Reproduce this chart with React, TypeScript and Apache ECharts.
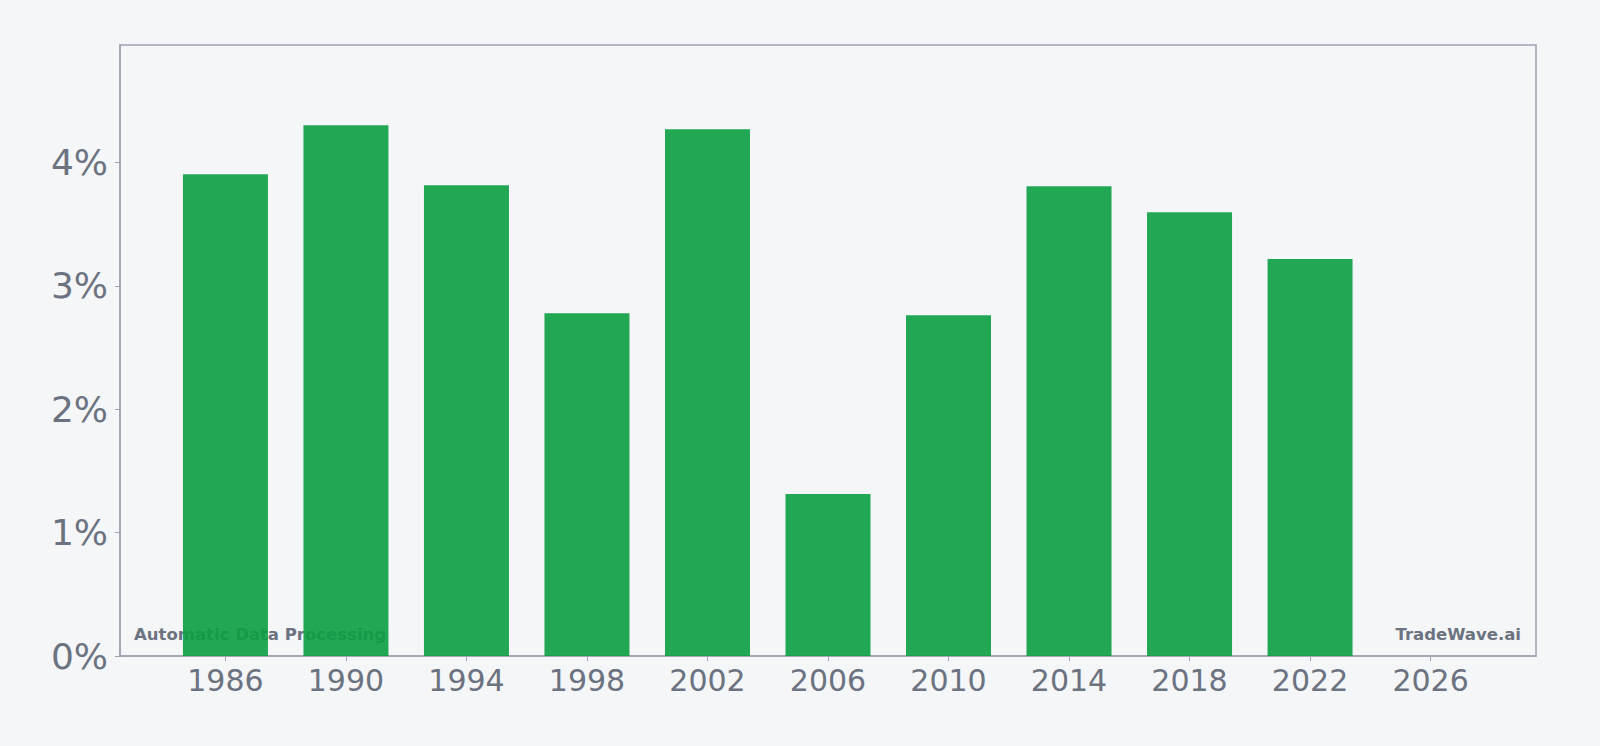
import {useEffect, useRef} from 'react';
import * as echarts from 'echarts';

// years on the axis, one slot per year, ticks every 4
const years: string[] = [];
for (let y = 1983; y <= 2029; y++) years.push(String(y));

const barYears = ['1986', '1990', '1994', '1998', '2002', '2006', '2010', '2014', '2018', '2022'];
const barValues = [3.906, 4.303, 3.817, 2.78, 4.27, 1.314, 2.763, 3.809, 3.597, 3.218];

const yTicks = [0, 1, 2, 3, 4];

const TEXT = '#6b7280';
const FRAME = '#9ca3af';
const GREEN = '#0b9e41';
const BG = '#f5f6f8';

const isLabelYear = (_i: number, v: string) => (Number(v) - 1986) % 4 === 0;

const App = () => {
    const chartRef = useRef<HTMLDivElement>(null);

    useEffect(() => {
        document.body.style.margin = '0';
        const chart = echarts.init(chartRef.current!, null, {renderer: 'svg'});

        const data = years.map((y) => {
            const i = barYears.indexOf(y);
            return i >= 0 ? barValues[i] : null;
        });

        chart.setOption({
            animation: false,
            backgroundColor: BG,
            grid: {
                left: 120,
                right: 64,
                top: 45,
                bottom: 90,
                show: true,
                borderColor: FRAME,
                borderWidth: 1.5,
                backgroundColor: 'transparent',
            },
            xAxis: {
                type: 'category',
                data: years,
                boundaryGap: true,
                axisLine: {lineStyle: {color: FRAME, width: 1.5}},
                axisTick: {show: true, alignWithLabel: true, interval: isLabelYear, length: 5, lineStyle: {color: FRAME}},
                axisLabel: {
                    interval: isLabelYear,
                    color: TEXT,
                    fontSize: 30,
                    fontFamily: 'DejaVu Sans',
                    margin: 9,
                },
                splitLine: {show: false},
            },
            yAxis: {
                type: 'value',
                min: 0,
                max: 4.954,
                interval: 1,
                axisLine: {show: true, lineStyle: {color: FRAME, width: 1.5}},
                axisTick: {show: true, length: 5, customValues: yTicks, lineStyle: {color: FRAME}},
                axisLabel: {
                    color: TEXT,
                    fontSize: 36,
                    fontFamily: 'DejaVu Sans',
                    margin: 12,
                    customValues: yTicks,
                    formatter: (v: number) => (yTicks.includes(v) ? `${v}%` : ''),
                },
                splitLine: {show: false},
            },
            series: [
                {
                    type: 'bar',
                    data,
                    barWidth: 85,
                    z: 5,
                    itemStyle: {color: GREEN, opacity: 0.9},
                },
            ],
            graphic: [
                {
                    type: 'text',
                    x: 134,
                    y: 634,
                    z: 1,
                    style: {
                        text: 'Automatic Data Processing',
                        fill: TEXT,
                        font: 'bold 16.5px "DejaVu Sans"',
                        align: 'left',
                        verticalAlign: 'middle',
                    },
                },
                {
                    type: 'text',
                    x: 1521,
                    y: 634,
                    z: 1,
                    style: {
                        text: 'TradeWave.ai',
                        fill: TEXT,
                        font: 'bold 16.5px "DejaVu Sans"',
                        align: 'right',
                        verticalAlign: 'middle',
                    },
                },
            ],
        });

        return () => {
            chart.dispose();
        };
    }, []);

    return <div ref={chartRef} style={{width: '1600px', height: '746px', background: BG}} />;
};

export default App;
